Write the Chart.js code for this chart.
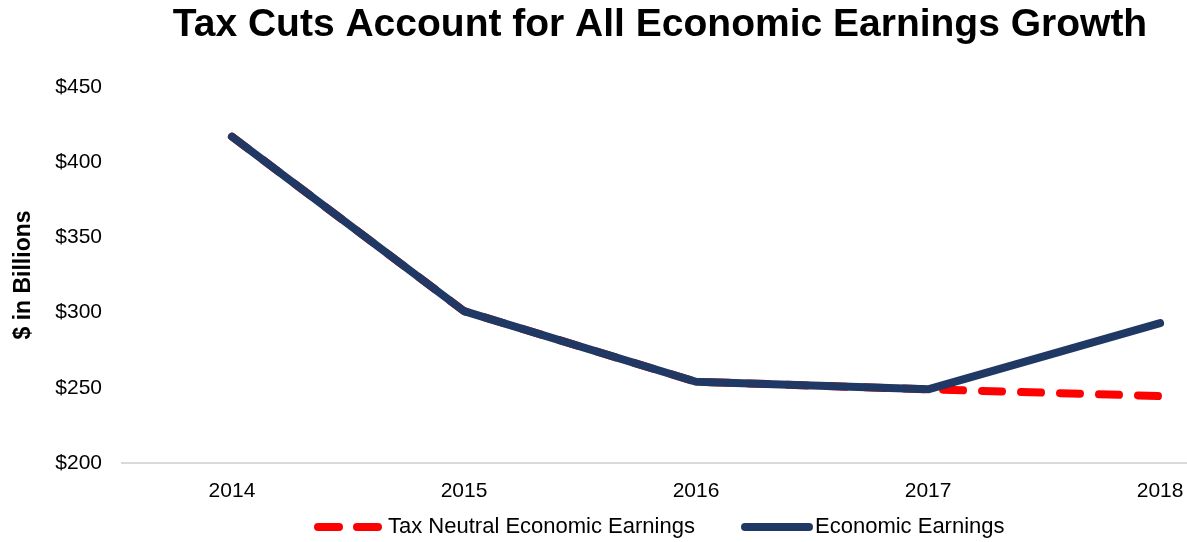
<!DOCTYPE html>
<html>
<head>
<meta charset="utf-8">
<script src="https://cdn.jsdelivr.net/npm/chart.js@4.4.1/dist/chart.umd.min.js"></script>
<style>
  html, body { margin: 0; padding: 0; background: #fff; }
  #wrap { width: 1187px; height: 542px; }
</style>
</head>
<body>
<div id="wrap"><canvas id="chart"></canvas></div>
<script>
const years = [2014, 2015, 2016, 2017, 2018];
const taxNeutral = [417, 301, 254, 249, 244.5];
const economic = [417, 301, 254, 249, 293];
const yTicks = [200, 250, 300, 350, 400, 450];

const chartTitle = "Tax Cuts Account for All Economic Earnings Growth";
const yTitle = "$ in Billions";
const seriesNames = ["Tax Neutral Economic Earnings", "Economic Earnings"];
const red = "#FF0000";
const navy = "#1F3864";
const font = "'Liberation Sans', Arial, sans-serif";

function toPoints(vals) {
	return years.map(function (y, i) { return { x: y, y: vals[i] }; });
}

// title and legend are drawn by hand, to place them like the original
const extras = {
	id: 'extras',
	afterDraw: function (chart) {
		const ctx = chart.ctx;
		ctx.save();
		ctx.fillStyle = "#000";
		ctx.font = "bold 39px " + font;
		ctx.textAlign = "center";
		ctx.textBaseline = "middle";
		ctx.fillText(chartTitle, 660, 25);

		ctx.font = "22px " + font;
		ctx.textAlign = "left";
		const ly = 527;
		// red dashed sample
		ctx.lineWidth = 8;
		ctx.lineCap = "round";
		ctx.strokeStyle = red;
		ctx.setLineDash([21, 18]);
		ctx.beginPath();
		ctx.moveTo(318, ly);
		ctx.lineTo(378, ly);
		ctx.stroke();
		ctx.fillText(seriesNames[0], 388, ly);
		// navy sample
		ctx.setLineDash([]);
		ctx.strokeStyle = navy;
		ctx.beginPath();
		ctx.moveTo(745, ly);
		ctx.lineTo(809, ly);
		ctx.stroke();
		ctx.fillStyle = "#000";
		ctx.fillText(seriesNames[1], 815, ly);
		ctx.restore();
	}
};

new Chart(document.getElementById('chart'), {
	type: 'line',
	data: {
		datasets: [{
			label: seriesNames[0],
			data: toPoints(taxNeutral),
			borderColor: red,
			borderWidth: 8,
			borderDash: [20, 19],
			borderCapStyle: 'round',
			borderJoinStyle: 'round',
			pointRadius: 0,
			fill: false,
			order: 1
		}, {
			label: seriesNames[1],
			data: toPoints(economic),
			borderColor: navy,
			borderWidth: 8,
			borderCapStyle: 'round',
			borderJoinStyle: 'round',
			pointRadius: 0,
			fill: false,
			order: 0
		}]
	},
	options: {
		responsive: true,
		maintainAspectRatio: false,
		animation: false,
		layout: { padding: { top: 87, left: 0, right: 0, bottom: 39 } },
		plugins: {
			legend: { display: false },
			title: { display: false },
			tooltip: { enabled: false }
		},
		scales: {
			x: {
				type: 'linear',
				min: 2013.526,
				max: 2018.116,
				afterBuildTicks: function (scale) {
					scale.ticks = years.map(function (v) { return { value: v }; });
				},
				afterFit: function (scale) {
					scale.height = 40;
					scale.paddingLeft = 0;
					scale.paddingRight = 0;
				},
				grid: { display: false, drawTicks: false },
				border: { display: true, color: '#D9D9D9', width: 2 },
				ticks: {
					padding: 16,
					color: '#000',
					font: { family: font, size: 21 },
					callback: function (v) { return String(v); }
				}
			},
			y: {
				min: 200,
				max: 450,
				afterBuildTicks: function (scale) {
					scale.ticks = yTicks.map(function (v) { return { value: v }; });
				},
				afterFit: function (scale) {
					scale.width = 122;
					scale.paddingTop = 0;
					scale.paddingBottom = 0;
				},
				grid: { display: false, drawTicks: false },
				border: { display: false },
				ticks: {
					padding: 20,
					color: '#000',
					font: { family: font, size: 21 },
					callback: function (v) { return '$' + v; }
				},
				title: {
					display: true,
					text: yTitle,
					color: '#000',
					font: { family: font, size: 23, weight: 'bold' },
					padding: { top: 10, bottom: 0 }
				}
			}
		}
	},
	plugins: [extras]
});
</script>
</body>
</html>
